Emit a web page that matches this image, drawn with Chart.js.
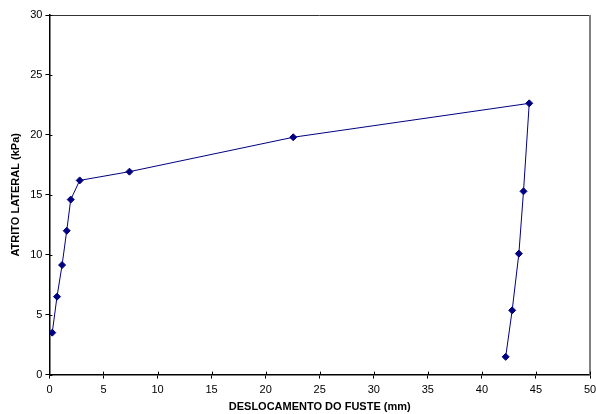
<!DOCTYPE html>
<html>
<head>
<meta charset="utf-8">
<script src="https://cdn.jsdelivr.net/npm/chart.js@4"></script>
<style>
  html, body { margin: 0; padding: 0; background: #fff; }
  #wrap { width: 596px; height: 414px; }
</style>
</head>
<body>
<div id="wrap"><canvas id="grafico" width="596" height="414"></canvas></div>
<script>
// deslocamento do fuste (mm) x atrito lateral (kPa)
var desloc = [0.26, 0.7, 1.17, 1.6, 1.97, 2.8, 7.4, 22.55, 44.38, 43.85, 43.42, 42.8, 42.2];
var atrito = [3.5, 6.5, 9.14, 12.0, 14.6, 16.2, 16.93, 19.8, 22.63, 15.29, 10.09, 5.36, 1.48];

var pontos = [];
for (var i in desloc) {
	pontos.push({x: desloc[i], y: atrito[i]});
}

// borda superior / direita e marcas de escala cruzando o eixo
var moldura = {
	id: 'moldura',
	afterDraw: function(chart) {
		var c = chart.ctx, a = chart.chartArea;
		c.save();
		c.lineWidth = 1;
		c.strokeStyle = '#333';
		c.beginPath();
		c.moveTo(a.left, a.top + 0.5);
		c.lineTo(a.right, a.top + 0.5);
		c.stroke();
		c.lineWidth = 2;
		c.strokeStyle = '#808080';
		c.beginPath();
		c.moveTo(a.right, a.top);
		c.lineTo(a.right, a.bottom);
		c.stroke();
		c.lineWidth = 1;
		c.strokeStyle = '#000';
		var sx = chart.scales.x, sy = chart.scales.y;
		c.beginPath();
		sx.ticks.forEach(function(t) {
			var px = Math.round(sx.getPixelForValue(t.value)) + 0.5;
			c.moveTo(px, a.bottom);
			c.lineTo(px, a.bottom - 3);
		});
		sy.ticks.forEach(function(t) {
			var py = Math.round(sy.getPixelForValue(t.value)) + 0.5;
			c.moveTo(a.left, py);
			c.lineTo(a.left + 3, py);
		});
		c.stroke();
		c.restore();
	}
};

var ctx = document.getElementById('grafico');

var grafico = new Chart(ctx, {
	type: 'scatter',
	data: {
		datasets: [{
			label: 'Atrito lateral',
			data: pontos,
			showLine: true,
			borderColor: '#000080',
			backgroundColor: '#000080',
			borderWidth: 1,
			pointStyle: 'rectRot',
			pointRadius: 3.5,
			pointHoverRadius: 3.5
		}]
	},
	options: {
		responsive: false,
		animation: false,
		layout: { padding: { top: 15, right: 0, bottom: 0, left: 9 } },
		plugins: {
			legend: { display: false },
			tooltip: { enabled: false }
		},
		scales: {
			x: {
				min: 0, max: 50,
				afterFit: function(scale) { scale.paddingRight = 6; scale.height -= 2; },
				ticks: { stepSize: 5, color: '#000', padding: 5, maxRotation: 0,
					font: { family: 'Liberation Sans', size: 11 } },
				grid: { drawOnChartArea: false, tickLength: 4, color: '#000' },
				border: { color: '#000', width: 1.5 },
				title: { display: true, text: 'DESLOCAMENTO DO FUSTE (mm)', color: '#000',
					padding: { top: 1, bottom: 0 },
					font: { family: 'Liberation Sans', size: 11, weight: 'bold' } }
			},
			y: {
				min: 0, max: 30,
				ticks: { stepSize: 5, color: '#000', padding: 3,
					font: { family: 'Liberation Sans', size: 11 } },
				grid: { drawOnChartArea: false, tickLength: 4, color: '#000' },
				border: { color: '#000', width: 1.5 },
				title: { display: true, text: 'ATRITO LATERAL (kPa)', color: '#000',
					padding: { top: 0, bottom: 5 },
					font: { family: 'Liberation Sans', size: 11, weight: 'bold' } }
			}
		}
	},
	plugins: [moldura]
});
</script>
</body>
</html>
